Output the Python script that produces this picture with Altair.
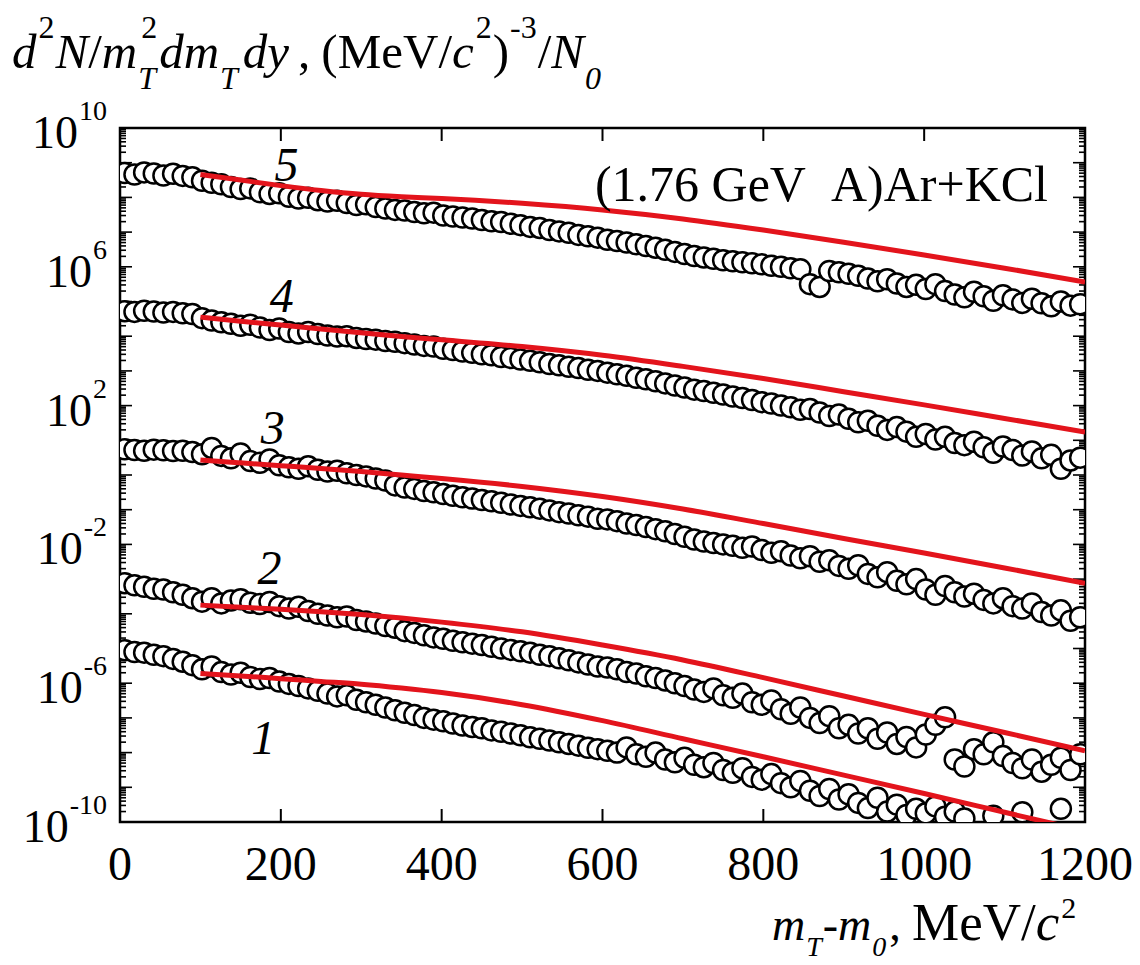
import altair as alt
import pandas as pd

# ---------------------------------------------------------------- data
# transverse-mass bins (m_T - m_0), MeV/c^2
mt = [6, 18, 30, 42, 54, 66, 78, 90, 102, 114, 126, 138, 150, 162, 174, 186, 198, 210, 222,
      234, 246, 258, 270, 282, 294, 306, 318, 330, 342, 354, 366, 378, 390, 402, 414, 426, 438,
      450, 462, 474, 486, 498, 510, 522, 534, 546, 558, 570, 582, 594, 606, 618, 630, 642, 654,
      666, 678, 690, 702, 714, 726, 738, 750, 762, 774, 786, 798, 810, 822, 834, 846, 858, 870,
      882, 894, 906, 918, 930, 942, 954, 966, 978, 990, 1002, 1014, 1026, 1038, 1050, 1062,
      1074, 1086, 1098, 1110, 1122, 1134, 1146, 1158, 1170, 1182, 1194]

# log10 of the yield in each rapidity bin (curve 1 is the lowest one); None = off scale
lg1 = [-5.05, -5.10, -5.12, -5.18, -5.22, -5.30, -5.38, -5.48,
       -5.60, -5.52, -5.68, -5.75, -5.70, -5.82, -5.88, -5.85, -5.95, -6.02, -6.08,
       -6.15, -6.22, -6.30, -6.38, -6.35, -6.48, -6.55, -6.62, -6.70, -6.78,
       -6.85, -6.92, -7.00, -7.05, -7.10, -7.16, -7.22, -7.26, -7.30, -7.36, -7.40, -7.45,
       -7.50, -7.56, -7.60, -7.65, -7.70, -7.75, -7.80, -7.86, -7.90,
       -7.95, -8.00, -7.85, -8.05, -8.12, -8.00, -8.20, -8.28, -8.15, -8.35, -8.42, -8.30,
       -8.50, -8.58, -8.45, -8.70, -8.78, -8.62, -8.88, -9.00, -8.82, -9.10, -9.25, -9.05, -9.35,
       -9.20, -9.45, -9.60, -9.30, -9.70, -9.50, -9.80, -9.62, -9.75, -9.55, -9.85, -9.70,
       -9.90, None, None, -9.82, None, None, -9.72, None, None, None, -9.62, None, None]
lg2 = [-3.12, -3.18, -3.22, -3.28, -3.30, -3.38, -3.45, -3.55,
       -3.65, -3.55, -3.70, -3.62, -3.58, -3.68, -3.72, -3.66, -3.78, -3.85, -3.80,
       -3.92, -4.00, -4.05, -4.10, -4.08, -4.18, -4.22, -4.28, -4.35, -4.40,
       -4.50, -4.55, -4.62, -4.68, -4.72, -4.78, -4.82, -4.86, -4.90, -4.95, -5.00, -5.04,
       -5.08, -5.12, -5.18, -5.22, -5.28, -5.34, -5.40, -5.46, -5.52,
       -5.55, -5.60, -5.68, -5.72, -5.80, -5.85, -5.92, -6.00, -6.08, -6.18, -6.25, -6.15,
       -6.35, -6.42, -6.30, -6.55, -6.62, -6.50, -6.75, -6.88, -6.70, -7.00, -7.15, -6.95, -7.30,
       -7.20, -7.45, -7.30, -7.60, -7.42, -7.75, -7.55, -7.85, -7.48, -7.20, -6.98, -8.20,
       -8.40, -7.90, -8.05, -7.70, -8.10, -8.30, -8.45, -8.20, -8.55, -8.35, -8.15, -8.50, -8.05]
lg3 = [0.74, 0.72, 0.70, 0.73, 0.71, 0.69, 0.70, 0.66,
       0.60, 0.78, 0.55, 0.48, 0.62, 0.40, 0.35, 0.45, 0.28, 0.22, 0.18,
       0.25, 0.15, 0.10, 0.12, 0.05, 0.00, -0.04, -0.10, -0.16, -0.30,
       -0.36, -0.40, -0.46, -0.50, -0.55, -0.60, -0.64, -0.68, -0.72, -0.76, -0.80, -0.85,
       -0.89, -0.93, -0.97, -1.02, -1.07, -1.11, -1.16, -1.20, -1.26,
       -1.28, -1.33, -1.40, -1.44, -1.50, -1.56, -1.62, -1.70, -1.78, -1.86, -1.92, -1.96,
       -2.00, -2.04, -2.10, -2.06, -2.16, -2.24, -2.20, -2.32, -2.40, -2.34, -2.50, -2.46, -2.62,
       -2.70, -2.60, -2.85, -2.95, -2.80, -3.05, -3.15, -3.00, -3.30, -3.45, -3.20, -3.38,
       -3.50, -3.42, -3.60, -3.70, -3.55, -3.78, -3.85, -3.70, -3.95, -4.05, -3.90, -4.20, -4.10]
lg4 = [4.72, 4.70, 4.73, 4.71, 4.68, 4.70, 4.66, 4.64,
       4.52, 4.45, 4.40, 4.36, 4.30, 4.33, 4.25, 4.18, 4.22, 4.12, 4.08,
       4.12, 4.06, 4.02, 3.99, 4.00, 3.95, 3.92, 3.90, 3.86, 3.84,
       3.80, 3.76, 3.72, 3.70, 3.64, 3.60, 3.56, 3.52, 3.48, 3.45, 3.40, 3.37,
       3.33, 3.29, 3.25, 3.20, 3.16, 3.12, 3.08, 3.03, 3.00,
       2.95, 2.90, 2.86, 2.80, 2.76, 2.70, 2.64, 2.58, 2.52, 2.46, 2.42, 2.37,
       2.32, 2.26, 2.22, 2.16, 2.10, 2.06, 2.00, 1.95, 1.88, 1.90, 1.80, 1.70, 1.74,
       1.62, 1.52, 1.56, 1.42, 1.30, 1.38, 1.25, 1.10, 1.18, 1.02, 1.10, 0.92,
       0.86, 0.96, 0.80, 0.64, 0.82, 0.72, 0.56, 0.68, 0.48, 0.58, 0.18, 0.42, 0.50]
lg5 = [8.70, 8.66, 8.72, 8.69, 8.63, 8.68, 8.62, 8.58,
       8.48, 8.42, 8.38, 8.30, 8.24, 8.26, 8.15, 8.10, 8.12, 8.02, 7.97,
       7.99, 7.92, 7.88, 7.90, 7.84, 7.78, 7.80, 7.72, 7.68, 7.64,
       7.62, 7.58, 7.54, 7.56, 7.48, 7.45, 7.42, 7.39, 7.35, 7.31, 7.29, 7.24,
       7.20, 7.15, 7.12, 7.06, 7.02, 6.98, 6.92, 6.88, 6.84,
       6.78, 6.74, 6.70, 6.65, 6.60, 6.55, 6.49, 6.43, 6.37, 6.31, 6.27, 6.23,
       6.19, 6.16, 6.13, 6.10, 6.07, 6.03, 6.00, 5.96, 5.93, 5.50, 5.42, 5.88, 5.84,
       5.80, 5.74, 5.66, 5.58, 5.64, 5.52, 5.42, 5.48, 5.36, 5.50, 5.30, 5.20,
       5.12, 5.28, 5.15, 5.02, 5.18, 5.06, 4.96, 5.08, 4.95, 4.86, 5.00, 4.88, 4.92]

# model curves, log10 of the yield
fit_mt = [100, 150, 200, 250, 300, 350, 400, 500, 600, 700, 800, 900, 1000, 1100, 1200]
fit1 = [-5.72, -5.79, -5.87, -5.95, -6.03, -6.14, -6.27, -6.62, -7.08, -7.60, -8.12, -8.65, -9.18, -9.72, -10.26]
fit2 = [-3.75, -3.81, -3.87, -3.94, -4.02, -4.12, -4.24, -4.52, -4.90, -5.33, -5.84, -6.37, -6.90, -7.42, -7.95]
fit3 = [0.43, 0.35, 0.27, 0.19, 0.10, 0.00, -0.10, -0.33, -0.62, -0.98, -1.40, -1.83, -2.25, -2.68, -3.12]
fit4 = [4.55, 4.43, 4.32, 4.21, 4.10, 3.99, 3.90, 3.70, 3.45, 3.13, 2.78, 2.40, 2.02, 1.63, 1.24]
fit5 = [8.66, 8.50, 8.34, 8.20, 8.09, 8.02, 7.97, 7.83, 7.64, 7.38, 7.06, 6.71, 6.34, 5.96, 5.56]

# curve numbers and where they sit
num_text = ["1", "2", "3", "4", "5"]
num_mt = [178, 186, 190, 201, 207]
num_lg = [-7.64, -2.74, 1.30, 5.10, 8.88]

x_ticks = [0, 200, 400, 600, 800, 1000, 1200]
y_label_exps = [10, 6, 2, -2, -6, -10]
reaction = "(1.76 GeV\u00a0\u00a0A)Ar+KCl"

# ---------------------------------------------------------------- frames
series = [lg1, lg2, lg3, lg4, lg5]
fits = [fit1, fit2, fit3, fit4, fit5]
for s in series:
    if len(s) != len(mt):
        raise ValueError("series length mismatch")

pts = pd.DataFrame([
    {"mt": x, "v": 10.0 ** l, "k": k + 1, "i": i}
    for k, s in enumerate(series) for i, (x, l) in enumerate(zip(mt, s)) if l is not None
])
curves = pd.DataFrame([
    {"mt": x, "v": 10.0 ** l, "k": k + 1}
    for k, f in enumerate(fits) for x, l in zip(fit_mt, f)
])
nums = pd.DataFrame({"mt": num_mt, "v": [10.0 ** l for l in num_lg], "t": num_text})

W, H = 965, 694
SERIF = "Liberation Serif"
xs = alt.Scale(domain=[0, 1200], nice=False, zero=False)
ys = alt.Scale(type="log", domain=[1e-10, 1e10], nice=False)

X = alt.X("mt:Q", scale=xs, axis=None)
Y = alt.Y("v:Q", scale=ys, axis=None)

# ---------------------------------------------------------------- inward ticks
major_y = pd.DataFrame({"v": [10.0 ** e for e in range(-10, 11)]})
minor_y = pd.DataFrame({"v": [m * 10.0 ** e for e in range(-10, 10) for m in range(2, 10)]})
xt = pd.DataFrame({"mt": x_ticks, "t": [str(t) for t in x_ticks]})


def yrules(df, length):
    left = alt.Chart(df).mark_rule(color="black", strokeWidth=1.6).encode(
        y=Y, x=alt.value(0), x2=alt.value(length))
    right = alt.Chart(df).mark_rule(color="black", strokeWidth=1.6).encode(
        y=Y, x=alt.value(W - length), x2=alt.value(W))
    return [left, right]


ticks = yrules(major_y, 12) + yrules(minor_y, 6) + [
    alt.Chart(xt).mark_rule(color="black", strokeWidth=2).encode(
        x=X, y=alt.value(H - 13), y2=alt.value(H)),
    alt.Chart(xt).mark_rule(color="black", strokeWidth=2).encode(
        x=X, y=alt.value(0), y2=alt.value(13)),
]

# ---------------------------------------------------------------- data marks
circles = alt.Chart(pts).mark_point(
    shape="circle", size=400, filled=True, fill="white", stroke="black",
    strokeWidth=2.5, opacity=1, clip=True,
).encode(x=X, y=Y, detail="k:N", order="i:Q")

lines = alt.Chart(curves).mark_line(
    color="#e3141c", strokeWidth=5, interpolate="monotone", clip=True,
).encode(x=X, y=Y, detail="k:N")

numbers = alt.Chart(nums).mark_text(
    font=SERIF, fontStyle="italic", fontSize=48, align="center", baseline="middle",
).encode(x=X, y=Y, text="t:N")

# ---------------------------------------------------------------- axis labels
xlab = alt.Chart(xt).mark_text(
    font=SERIF, fontSize=48, align="center", baseline="alphabetic",
).encode(x=X, y=alt.value(H + 58), text="t:N")

EXP_SIZE, BASE_SIZE = 28, 46
LAB_RIGHT = -13
ylab_rows = []
for e in y_label_exps:
    s = str(e)
    w = sum(333 if c == "-" else 500 for c in s) * EXP_SIZE / 1000
    ylab_rows.append({"v": 10.0 ** e, "exp": s, "base": "10",
                      "bx": LAB_RIGHT - w - 1, "ex": LAB_RIGHT})
ylab = pd.DataFrame(ylab_rows)

ylab_base = alt.Chart(ylab).mark_text(
    font=SERIF, fontSize=BASE_SIZE, align="right", baseline="alphabetic", dy=20,
).encode(x=alt.X("bx:Q", scale=None, axis=None), y=Y, text="base:N")
ylab_exp = alt.Chart(ylab).mark_text(
    font=SERIF, fontSize=EXP_SIZE, align="right", baseline="alphabetic", dy=-8,
).encode(x=alt.X("ex:Q", scale=None, axis=None), y=Y, text="exp:N")

# ---------------------------------------------------------------- rich titles
REG = {"(": 333, ")": 333, "M": 889, "e": 444, "V": 722, "/": 278, ",": 250, " ": 250,
       "-": 333, ".": 250, "2": 500, "3": 500, "0": 500}
ITA = {"d": 500, "N": 667, "m": 722, "T": 556, "y": 444, "c": 444, "0": 500, " ": 250}


def run(segs, x0, base, main, small, sup_dy, sub_dy):
    """Lay out text pieces left to right (Times metrics); returns rows in plot pixels."""
    rows, x = [], x0
    for style, role, txt, gap, advance in segs:
        x += gap
        size = main if role == "main" else small
        dy = 0 if role == "main" else (sup_dy if role == "sup" else sub_dy)
        rows.append({"px": x, "py": base + dy, "t": txt, "fs": size, "it": style == "i"})
        table = ITA if style == "i" else REG
        if advance:
            x += sum(table[c] for c in txt) * size / 1000
    return rows


ytitle = run([
    ("i", "main", "d", 0, True),
    ("r", "sup", "2", 2, True),
    ("i", "main", "N", 1, True),
    ("r", "main", "/", 0, True),
    ("i", "main", "m", 0, True),
    ("i", "sub", "T", 1, False),
    ("r", "sup", "2", 3, True),
    ("i", "main", "dm", 2, True),
    ("i", "sub", "T", 1, True),
    ("i", "main", "dy", 5, True),
    ("r", "main", ",", 9, True),
    ("r", "main", "(MeV/", 11, True),
    ("i", "main", "c", 0, True),
    ("r", "sup", "2", 2, True),
    ("r", "main", ")", 1, True),
    ("r", "sup", "-3", 1, True),
    ("r", "main", "/", 1, True),
    ("i", "main", "N", 0, True),
    ("i", "sub", "0", 1, True),
], x0=-108, base=-60, main=49, small=32, sup_dy=-30, sub_dy=21)

xtitle = run([
    ("i", "main", "m", 0, True),
    ("i", "sub", "T", 1, True),
    ("r", "main", "-", 1, True),
    ("i", "main", "m", 0, True),
    ("i", "sub", "0", 1, True),
    ("r", "main", ",", 3, True),
], x0=652, base=812, main=46, small=28, sup_dy=-22, sub_dy=16) + run([
    ("r", "main", "MeV/", 0, True),
    ("i", "main", "c", 0, True),
    ("r", "sup", "2", 2, True),
], x0=792, base=812, main=53, small=30, sup_dy=-22, sub_dy=16)

titles = pd.DataFrame(ytitle + xtitle)


def title_layer(italic):
    return alt.Chart(titles[titles["it"] == italic]).mark_text(
        font=SERIF, fontStyle="italic" if italic else "normal",
        align="left", baseline="alphabetic",
    ).encode(
        x=alt.X("px:Q", scale=None, axis=None),
        y=alt.Y("py:Q", scale=None, axis=None),
        size=alt.Size("fs:Q", scale=None, legend=None),
        text="t:N",
    )


note = alt.Chart(pd.DataFrame({"t": [reaction]})).mark_text(
    font=SERIF, fontSize=50, align="right", baseline="alphabetic",
).encode(x=alt.value(928), y=alt.value(73), text="t:N")

chart = alt.layer(
    *ticks, circles, lines, numbers, xlab, ylab_base, ylab_exp,
    title_layer(True), title_layer(False), note,
).properties(
    width=W, height=H,
    autosize=alt.AutoSizeParams(type="none"),
    padding={"left": 120, "top": 128, "right": 55, "bottom": 143},
    background="white",
).configure_view(stroke="black", strokeWidth=2.5)

chart.save("out.html", embed_options={"renderer": "svg", "actions": False})
